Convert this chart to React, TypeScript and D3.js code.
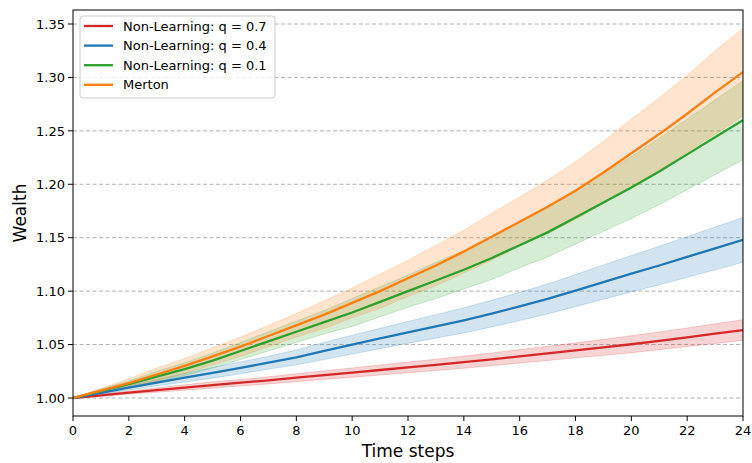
import React from "react";
import * as d3 from "d3";

const steps = d3.range(0, 25);
const xTicks = [0, 2, 4, 6, 8, 10, 12, 14, 16, 18, 20, 22, 24];
const yTicks = [1.0, 1.05, 1.1, 1.15, 1.2, 1.25, 1.3, 1.35];

const redMean = [1.0, 1.0025, 1.005, 1.0074, 1.0098, 1.0121, 1.0143, 1.0165, 1.019, 1.0214, 1.0238, 1.0262, 1.0286, 1.031, 1.0335, 1.0362, 1.039, 1.0418, 1.0446, 1.0474, 1.0503, 1.0535, 1.0568, 1.0602, 1.0636];
const redBand = [0, 0.001, 0.0015, 0.002, 0.0025, 0.003, 0.003, 0.0033, 0.0037, 0.004, 0.0043, 0.0047, 0.005, 0.0053, 0.0057, 0.006, 0.0063, 0.0067, 0.007, 0.0075, 0.008, 0.0083, 0.0087, 0.0092, 0.0097];

const blueMean = [1.0, 1.0048, 1.0096, 1.0144, 1.019, 1.0236, 1.0283, 1.033, 1.038, 1.044, 1.05, 1.0557, 1.0614, 1.067, 1.0727, 1.079, 1.0857, 1.0927, 1.1005, 1.1085, 1.1163, 1.124, 1.132, 1.14, 1.148];
const blueBand = [0, 0.001, 0.002, 0.003, 0.004, 0.005, 0.0055, 0.006, 0.007, 0.008, 0.0088, 0.0095, 0.0102, 0.011, 0.0118, 0.0125, 0.0132, 0.014, 0.015, 0.016, 0.017, 0.018, 0.019, 0.02, 0.021];

const greenMean = [1.0, 1.0065, 1.013, 1.02, 1.027, 1.035, 1.044, 1.053, 1.062, 1.071, 1.08, 1.09, 1.1, 1.11, 1.12, 1.131, 1.143, 1.155, 1.169, 1.183, 1.197, 1.212, 1.228, 1.244, 1.26];
const greenBand = [0, 0.002, 0.003, 0.005, 0.006, 0.007, 0.008, 0.009, 0.01, 0.011, 0.013, 0.014, 0.015, 0.017, 0.018, 0.02, 0.021, 0.023, 0.025, 0.027, 0.029, 0.031, 0.033, 0.035, 0.037];

const mertonMean = [1.0, 1.007, 1.014, 1.022, 1.03, 1.039, 1.048, 1.058, 1.068, 1.078, 1.089, 1.1, 1.112, 1.124, 1.137, 1.151, 1.165, 1.179, 1.194, 1.211, 1.229, 1.247, 1.266, 1.286, 1.305];
const mertonBand = [0, 0.002, 0.004, 0.006, 0.007, 0.008, 0.009, 0.01, 0.011, 0.013, 0.014, 0.016, 0.017, 0.019, 0.02, 0.022, 0.023, 0.025, 0.027, 0.029, 0.032, 0.034, 0.036, 0.039, 0.041];

const seriesNames = ["Non-Learning: q = 0.7", "Non-Learning: q = 0.4", "Non-Learning: q = 0.1", "Merton"];
const seriesColors = ["#d62728", "#1f77b4", "#2ca02c", "#ff7f0e"];
const seriesMeans = [redMean, blueMean, greenMean, mertonMean];
const seriesBands = [redBand, blueBand, greenBand, mertonBand];

const W = 752;
const H = 463;
const left = 73;
const right = 743;
const top = 10;
const bottom = 416;
const font = "DejaVu Sans";

export default function App() {
  const x = d3.scaleLinear().domain([0, 24]).range([left, right]);
  const y = d3.scaleLinear().domain([1.0, 1.35]).range([398, 24]);

  const line = d3
    .line<number>()
    .x((_, i) => x(steps[i]))
    .y((d) => y(d));

  const area = (mean: number[], band: number[]) =>
    d3
      .area<number>()
      .x((_, i) => x(steps[i]))
      .y0((d, i) => y(d - band[i]))
      .y1((d, i) => y(d + band[i]))(mean) || "";

  return (
    <svg
      width={W}
      height={H}
      style={{ position: "absolute", left: 0, top: 0, background: "#fff" }}
      fontFamily={font}
    >
      <defs>
        <clipPath id="plotClip">
          <rect x={left} y={top} width={right - left} height={bottom - top} />
        </clipPath>
      </defs>
      <rect x={0} y={0} width={W} height={H} fill="#fff" />
      {yTicks.map((t) => (
        <line
          key={"g" + t}
          x1={left}
          x2={right}
          y1={y(t)}
          y2={y(t)}
          stroke="#b0b0b0"
          strokeWidth={1}
          strokeDasharray="4,2.5"
        />
      ))}
      <g clipPath="url(#plotClip)">
        {seriesMeans.map((m, k) => (
          <path
            key={"a" + k}
            d={area(m, seriesBands[k])}
            fill={seriesColors[k]}
            fillOpacity={0.2}
            stroke={seriesColors[k]}
            strokeOpacity={0.2}
            strokeWidth={1}
          />
        ))}
        {seriesMeans.map((m, k) => (
          <path
            key={"l" + k}
            d={line(m) || ""}
            fill="none"
            stroke={seriesColors[k]}
            strokeWidth={2.3}
            strokeLinejoin="round"
          />
        ))}
      </g>
      <rect
        x={left}
        y={top}
        width={right - left}
        height={bottom - top}
        fill="none"
        stroke="#000"
        strokeWidth={1}
      />
      {xTicks.map((t) => (
        <g key={"x" + t}>
          <line x1={x(t)} x2={x(t)} y1={bottom} y2={bottom + 5} stroke="#000" strokeWidth={1} />
          <text x={x(t)} y={bottom + 19} textAnchor="middle" fontSize={13} fill="#000">
            {t}
          </text>
        </g>
      ))}
      {yTicks.map((t) => (
        <g key={"y" + t}>
          <line x1={left - 5} x2={left} y1={y(t)} y2={y(t)} stroke="#000" strokeWidth={1} />
          <text x={left - 8} y={y(t)} dy="0.36em" textAnchor="end" fontSize={13} fill="#000">
            {d3.format(".2f")(t)}
          </text>
        </g>
      ))}
      <text x={(left + right) / 2} y={457} textAnchor="middle" fontSize={17} fill="#000">
        Time steps
      </text>
      <text
        transform={`translate(26, ${(top + bottom) / 2}) rotate(-90)`}
        textAnchor="middle"
        fontSize={17}
        fill="#000"
      >
        Wealth
      </text>
      <rect
        x={80}
        y={16}
        width={195}
        height={82}
        rx={3}
        fill="#fff"
        fillOpacity={0.8}
        stroke="#cccccc"
        strokeWidth={1}
      />
      {seriesNames.map((n, k) => (
        <g key={"lg" + k}>
          <line
            x1={84}
            x2={113}
            y1={26 + k * 19.6}
            y2={26 + k * 19.6}
            stroke={seriesColors[k]}
            strokeWidth={2.3}
          />
          <text x={123} y={26 + k * 19.6} dy="0.36em" fontSize={13} fill="#000">
            {n}
          </text>
        </g>
      ))}
    </svg>
  );
}
